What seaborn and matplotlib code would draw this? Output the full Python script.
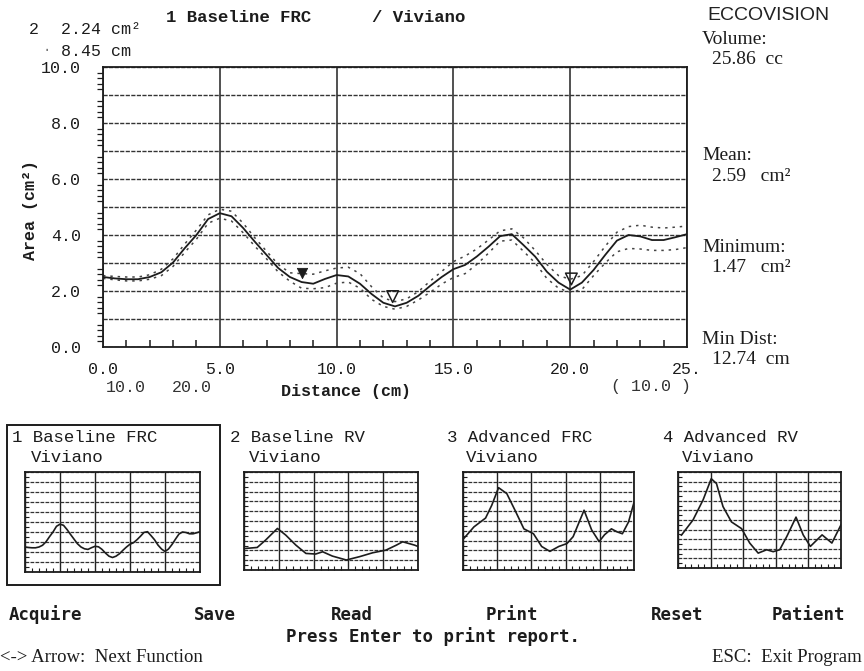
import numpy as np
import pandas as pd
import matplotlib
matplotlib.use('Agg')
import matplotlib.pyplot as plt
from matplotlib.ticker import MultipleLocator
from matplotlib.patches import Rectangle
import seaborn as sns

# Main trace: area along the airway (Baseline FRC), every 0.5 cm
distance = [0.0, 0.5, 1.0, 1.5, 2.0, 2.5, 3.0, 3.5, 4.0, 4.5,
            5.0, 5.5, 6.0, 6.5, 7.0, 7.5, 8.0, 8.5, 9.0, 9.5,
            10.0, 10.5, 11.0, 11.5, 12.0, 12.5, 13.0, 13.5, 14.0, 14.5,
            15.0, 15.5, 16.0, 16.5, 17.0, 17.5, 18.0, 18.5, 19.0, 19.5,
            20.0, 20.5, 21.0, 21.5, 22.0, 22.5, 23.0, 23.5, 24.0, 24.5, 25.0]
area = [2.50, 2.45, 2.42, 2.42, 2.50, 2.67, 3.02, 3.53, 4.00, 4.57,
        4.78, 4.67, 4.25, 3.76, 3.29, 2.82, 2.50, 2.32, 2.26, 2.43,
        2.57, 2.52, 2.26, 1.89, 1.58, 1.45, 1.58, 1.83, 2.18, 2.50,
        2.78, 2.93, 3.23, 3.58, 3.96, 4.03, 3.64, 3.23, 2.69, 2.30,
        2.05, 2.30, 2.75, 3.29, 3.80, 4.00, 3.95, 3.82, 3.82, 3.92, 4.03]
upper = [2.55, 2.52, 2.50, 2.50, 2.58, 2.78, 3.15, 3.68, 4.18, 4.72,
         4.92, 4.85, 4.42, 3.90, 3.42, 2.95, 2.65, 2.62, 2.60, 2.72,
         2.82, 2.85, 2.62, 2.15, 1.75, 1.62, 1.72, 1.98, 2.35, 2.70,
         3.05, 3.25, 3.50, 3.82, 4.15, 4.22, 3.90, 3.45, 2.95, 2.55,
         2.42, 2.55, 3.05, 3.60, 4.10, 4.30, 4.35, 4.28, 4.25, 4.28, 4.32]
lower = [2.45, 2.40, 2.36, 2.36, 2.42, 2.55, 2.88, 3.38, 3.85, 4.42,
         4.60, 4.50, 4.08, 3.60, 3.15, 2.68, 2.35, 2.10, 2.08, 2.12,
         2.28, 2.32, 2.10, 1.70, 1.45, 1.35, 1.45, 1.68, 1.95, 2.25,
         2.48, 2.62, 2.95, 3.35, 3.78, 3.82, 3.42, 3.00, 2.45, 2.10,
         1.95, 2.05, 2.55, 3.00, 3.40, 3.52, 3.50, 3.45, 3.45, 3.48, 3.55]

# cursor markers
filled_marker_x = [8.5]
filled_marker_y = [2.65]
open_marker_x = [12.4, 20.05]
open_marker_y = [1.8, 2.43]

# axis ticks
x_ticks = [0, 5, 10, 15, 20, 25]
x_tick_labels = ['0.0', '5.0', '10.0', '15.0', '20.0', '25.']
y_ticks = [0, 1, 2, 3, 4, 5, 6, 7, 8, 9, 10]
y_tick_labels = ['0.0', '', '2.0', '', '4.0', '', '6.0', '', '8.0', '', '10.0']

# thumbnails
thumb_titles = ['1 Baseline FRC', '2 Baseline RV', '3 Advanced FRC', '4 Advanced RV']
thumb_names = ['Viviano', 'Viviano', 'Viviano', 'Viviano']
rv_base_x = [0.24, 1.9, 3.1, 4.8, 6.0, 7.45, 8.9, 10.3, 11.3, 12.7, 14.7, 16.6, 18.5,
             20.4, 21.9, 22.8, 24.5, 25.0]
rv_base_y = [2.2, 2.3, 3.05, 4.24, 3.56, 2.54, 1.69, 1.63, 1.86, 1.42, 1.02, 1.36, 1.76,
             2.03, 2.54, 2.88, 2.54, 2.4]
frc_adv_x = [0.1, 1.6, 3.3, 4.2, 5.2, 6.4, 7.6, 8.9, 10.3, 11.5, 12.7, 14.0, 15.2, 16.1,
             17.7, 18.8, 19.9, 20.7, 21.7, 22.5, 23.3, 24.2, 25.0]
frc_adv_y = [3.2, 4.4, 5.3, 6.6, 8.4, 7.8, 6.1, 4.2, 3.7, 2.4, 1.9, 2.4, 2.7, 3.4,
             6.1, 4.1, 2.9, 3.6, 4.2, 3.9, 3.7, 4.9, 6.9]
rv_adv_x = [0.5, 2.3, 3.85, 5.1, 5.9, 6.9, 8.2, 9.75, 11.0, 12.3, 13.6, 14.6, 15.6, 16.7,
            18.1, 19.2, 20.3, 22.1, 23.6, 25.0]
rv_adv_y = [3.4, 5.0, 7.1, 9.3, 8.8, 6.4, 4.8, 4.1, 2.6, 1.55, 1.9, 1.7, 1.9, 3.3,
            5.3, 3.45, 2.25, 3.45, 2.6, 4.5]

# readouts
stat_labels = ['Volume:', 'Mean:', 'Minimum:', 'Min Dist:']
stat_values = ['25.86  cc', '2.59   cm²', '1.47   cm²', '12.74  cm']
menu_items = ['Acquire', 'Save', 'Read', 'Print', 'Reset', 'Patient']

sns.set_theme(style='white')
plt.rcParams['font.family'] = ['Liberation Mono', 'DejaVu Sans']

W, H = 864, 671
INK = '#1c1c1c'
MONO = 'Liberation Mono'
SERIF = 'Liberation Serif'


def fx(x):
    return x / W


def fy(y):
    return 1 - y / H


fig = plt.figure(figsize=(8.64, 6.71), dpi=100)
fig.patch.set_facecolor('white')

# ---- main chart ----
ax = fig.add_axes([fx(103), fy(347), fx(687) - fx(103), fy(67) - fy(347)])
main_df = pd.DataFrame({'distance': distance, 'area': area, 'upper': upper, 'lower': lower})

sns.lineplot(data=main_df, x='distance', y='upper', ax=ax, color='#444', lw=1.1,
             linestyle=(0, (1.6, 3.2)))
sns.lineplot(data=main_df, x='distance', y='lower', ax=ax, color='#444', lw=1.1,
             linestyle=(0, (1.6, 3.2)))
sns.lineplot(data=main_df, x='distance', y='area', ax=ax, color=INK, lw=1.3)
sns.scatterplot(x=filled_marker_x, y=filled_marker_y, ax=ax, marker='v', s=55,
                color=INK, edgecolor=INK, zorder=5)
sns.scatterplot(x=open_marker_x, y=open_marker_y, ax=ax, marker='v', s=70,
                facecolor='none', edgecolor=INK, linewidth=1.1, zorder=5)

ax.set_xlim(0, 25)
ax.set_ylim(0, 10)
ax.set_xticks(x_ticks)
ax.set_xticklabels(x_tick_labels)
ax.set_yticks(y_ticks)
ax.set_yticklabels(y_tick_labels)
ax.xaxis.set_minor_locator(MultipleLocator(1))
ax.yaxis.set_minor_locator(MultipleLocator(0.2))
ax.tick_params(axis='both', which='major', labelsize=12, colors=INK, width=1.2)
ax.tick_params(axis='y', which='major', direction='out', length=10, pad=6)
ax.tick_params(axis='x', which='major', direction='out', length=7, pad=4)
ax.tick_params(axis='y', which='minor', direction='out', length=4, width=0.9, color=INK, left=True)
ax.tick_params(axis='x', which='minor', direction='in', length=5, width=1.1, color=INK, bottom=True)
ax.grid(axis='y', which='major', color='#333', lw=1.0, linestyle=(0, (3, 1)))
ax.grid(axis='x', which='major', color='#222', lw=1.1, linestyle='-')
for s in ax.spines.values():
    s.set_color(INK)
    s.set_linewidth(1.3)

ax.set_xlabel('Distance (cm)', fontsize=12, fontweight='bold', color=INK)
ax.xaxis.set_label_coords((346 - 103) / 584, (347 - 384) / 280)
ax.set_ylabel('Area (cm²)', fontsize=12, fontweight='bold', color=INK)
ax.yaxis.set_label_coords((38 - 103) / 584, 0.49)

# text around the main chart
fig.text(fx(126), fy(388), '10.0', fontsize=12, color='#333', ha='center', va='center', family=MONO)
fig.text(fx(192), fy(388), '20.0', fontsize=12, color='#333', ha='center', va='center', family=MONO)
fig.text(fx(651), fy(386), '( 10.0 )', fontsize=12, color='#333', ha='center', va='center', family=MONO)

fig.text(fx(29), fy(30), '2', fontsize=12, color=INK, ha='left', va='center', family=MONO)
fig.text(fx(61), fy(30), '2.24 cm²', fontsize=12, color=INK, ha='left', va='center', family=MONO)
fig.text(fx(43), fy(50), '·', fontsize=10, color='#777', ha='left', va='center', family=MONO)
fig.text(fx(61), fy(51), '8.45 cm', fontsize=12, color=INK, ha='left', va='center', family=MONO)
fig.text(fx(166), fy(17), '1 Baseline FRC', fontsize=12.5, color=INK, ha='left', va='center',
         family=MONO, fontweight='bold')
fig.text(fx(372), fy(17), '/ Viviano', fontsize=12.5, color=INK, ha='left', va='center',
         family=MONO, fontweight='bold')
fig.text(fx(707), fy(16), 'ECCOVISION', fontsize=14, color='#222', ha='left', va='center',
         family='Liberation Sans')

stat_rows = [(40, 59), (155, 177), (248, 268), (340, 360)]
for lab, val, (ly, vy) in zip(stat_labels, stat_values, stat_rows):
    fig.text(fx(702), fy(ly), lab, fontsize=14, color=INK, ha='left', va='center', family=SERIF)
    fig.text(fx(712), fy(vy), val, fontsize=14, color=INK, ha='left', va='center', family=SERIF)

# ---- thumbnails ----
thumb_boxes = [(25, 200, 472, 572), (244, 418, 472, 570), (463, 634, 472, 570), (678, 841, 472, 568)]
thumb_title_x = [12, 230, 447, 663]
thumb_data = [(distance, area), (rv_base_x, rv_base_y), (frc_adv_x, frc_adv_y), (rv_adv_x, rv_adv_y)]

for (x0, x1, y0, y1), tx, title, name, (xs, ys) in zip(thumb_boxes, thumb_title_x, thumb_titles,
                                                       thumb_names, thumb_data):
    tax = fig.add_axes([fx(x0), fy(y1), fx(x1) - fx(x0), fy(y0) - fy(y1)])
    sns.lineplot(x=xs, y=ys, ax=tax, color=INK, lw=1.2)
    tax.set_xlim(0, 25)
    tax.set_ylim(0, 10)
    tax.set_xticks(x_ticks)
    tax.set_yticks(y_ticks)
    tax.set_xticklabels([])
    tax.set_yticklabels([])
    tax.xaxis.set_minor_locator(MultipleLocator(1))
    tax.yaxis.set_minor_locator(MultipleLocator(0.5))
    tax.tick_params(which='major', length=0)
    tax.tick_params(axis='y', which='minor', direction='in', length=3, width=0.8, color=INK, left=True)
    tax.tick_params(axis='x', which='minor', direction='in', length=3, width=0.8, color=INK, bottom=True)
    tax.grid(axis='y', which='major', color='#333', lw=0.9, linestyle=(0, (3, 1)))
    tax.grid(axis='x', which='major', color='#222', lw=1.0, linestyle='-')
    tax.set_xlabel('')
    tax.set_ylabel('')
    for s in tax.spines.values():
        s.set_color(INK)
        s.set_linewidth(1.3)
    fig.text(fx(tx), fy(438), title, fontsize=12.5, color=INK, ha='left', va='center', family=MONO)
    fig.text(fx(tx + 19), fy(458), name, fontsize=12.5, color=INK, ha='left', va='center', family=MONO)

# selection frame around the first thumbnail
fig.patches.append(Rectangle((fx(7), fy(585)), fx(220) - fx(7), fy(425) - fy(585),
                             transform=fig.transFigure, fill=False, edgecolor=INK, lw=1.4))

# ---- menu ----
menu_x = [45, 215, 352, 512, 677, 808]
for item, mx in zip(menu_items, menu_x):
    fig.text(fx(mx), fy(615), item, fontsize=12.5, color=INK, ha='center', va='center',
             family='DejaVu Sans Mono', fontweight='bold')
fig.text(fx(433), fy(637), 'Press Enter to print report.', fontsize=12.5, color=INK,
         ha='center', va='center', family='DejaVu Sans Mono', fontweight='bold')
fig.text(fx(0), fy(658), '<-> Arrow:  Next Function', fontsize=13.5, color=INK,
         ha='left', va='center', family=SERIF)
fig.text(fx(862), fy(658), 'ESC:  Exit Program', fontsize=13.5, color=INK,
         ha='right', va='center', family=SERIF)

fig.savefig('out.png', dpi=100, facecolor='white')
